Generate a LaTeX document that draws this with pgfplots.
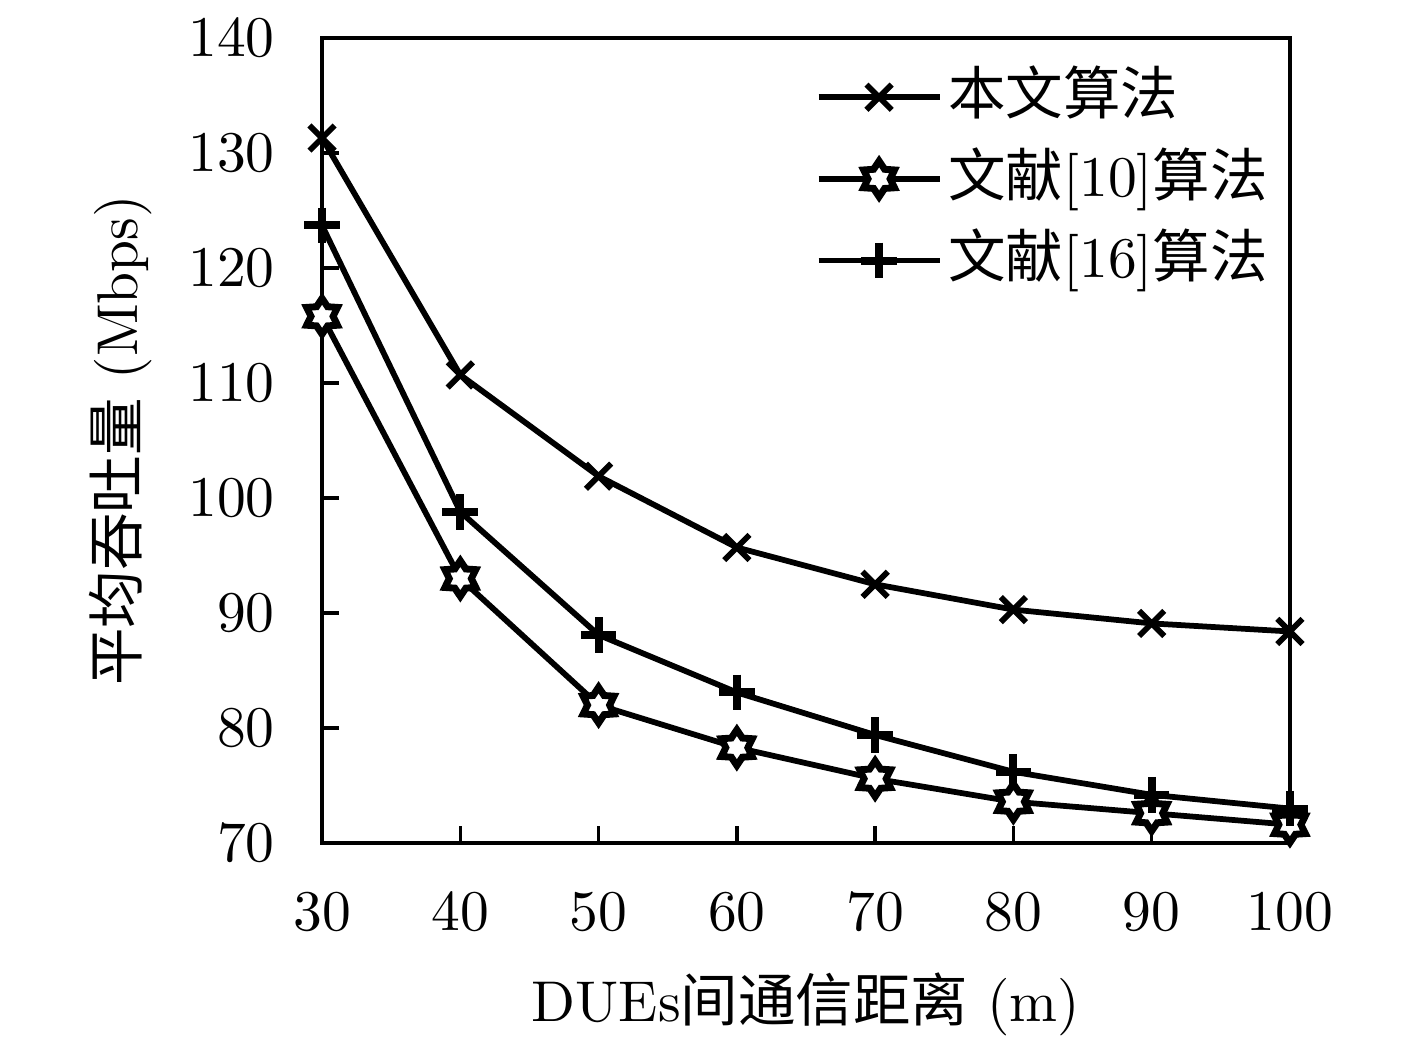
\documentclass[border=0pt]{standalone}
\usepackage{pgfplots}
\pgfplotsset{compat=1.18}
\usepackage{fontspec}
\newfontfamily\cjk{Noto Sans CJK SC}
\pgfdeclareplotmark{hexstar}{%
  \pgfpathmoveto{\pgfpointpolar{90}{\pgfplotmarksize}}%
  \pgfpathlineto{\pgfpointpolar{120}{0.62\pgfplotmarksize}}%
  \pgfpathlineto{\pgfpointpolar{150}{\pgfplotmarksize}}%
  \pgfpathlineto{\pgfpointpolar{180}{0.62\pgfplotmarksize}}%
  \pgfpathlineto{\pgfpointpolar{210}{\pgfplotmarksize}}%
  \pgfpathlineto{\pgfpointpolar{240}{0.62\pgfplotmarksize}}%
  \pgfpathlineto{\pgfpointpolar{270}{\pgfplotmarksize}}%
  \pgfpathlineto{\pgfpointpolar{300}{0.62\pgfplotmarksize}}%
  \pgfpathlineto{\pgfpointpolar{330}{\pgfplotmarksize}}%
  \pgfpathlineto{\pgfpointpolar{0}{0.62\pgfplotmarksize}}%
  \pgfpathlineto{\pgfpointpolar{30}{\pgfplotmarksize}}%
  \pgfpathlineto{\pgfpointpolar{60}{0.62\pgfplotmarksize}}%
  \pgfpathclose
  \pgfusepathqfillstroke
}
\begin{document}
\begin{tikzpicture}
\begin{axis}[
  scale only axis, width=168.3pt, height=140pt,
  xmin=30, xmax=100, ymin=70, ymax=140,
  xtick={30,40,...,100}, ytick={70,80,...,140},
  tick pos=left, tick align=inside,
  major tick length=3pt,
  axis line style={line width=0.6pt},
  every tick/.style={line width=0.6pt, black},
  xticklabel style={yshift=-5.2pt},
  yticklabel style={xshift=-4.7pt},
  xlabel={DUEs{\cjk 间通信距离} (m)},
  ylabel={{\cjk 平均吞吐量} (Mbps)},
  xlabel style={at={(axis description cs:0.5,-0.2)}, anchor=center},
  ylabel style={at={(axis description cs:-0.208,0.5)}, anchor=center},
  legend cell align=left,
  legend image code/.code={\draw[mark repeat=2,mark phase=2] plot coordinates {(0cm,0cm)(0.37cm,0cm)(0.74cm,0cm)};},
  legend style={draw=none, fill=none, at={(axis description cs:0.491,0.985)}, anchor=north west,
    nodes={text height=8pt, text depth=2pt, inner sep=1pt}, row sep=2.2pt,
    /tikz/every even column/.append style={column sep=1.6pt}},
  every axis plot/.append style={line width=1pt, black},
  mark size=3.1pt,
]
\addplot[mark=x, mark options={line width=1pt}] coordinates {
(30,131.3)(40,110.7)(50,101.9)(60,95.7)(70,92.5)(80,90.3)(90,89.1)(100,88.4)};
\addlegendentry{{\cjk 本文算法}}
\addplot[mark=hexstar, mark options={fill=white, line width=1.2pt}] coordinates {
(30,115.8)(40,93.0)(50,82.0)(60,78.3)(70,75.6)(80,73.6)(90,72.6)(100,71.6)};
\addlegendentry{{\cjk 文献}[10]{\cjk 算法}}
\addplot[mark=+, mark options={line width=1.4pt}] coordinates {
(30,123.7)(40,98.8)(50,88.1)(60,83.1)(70,79.4)(80,76.2)(90,74.2)(100,73.0)};
\addlegendentry{{\cjk 文献}[16]{\cjk 算法}}
\end{axis}
\pgfresetboundingbox
\path ([xshift=-56pt,yshift=-35.5pt]current axis.south west) rectangle ([xshift=22.1pt,yshift=6.6pt]current axis.north east);
\end{tikzpicture}
\end{document}
